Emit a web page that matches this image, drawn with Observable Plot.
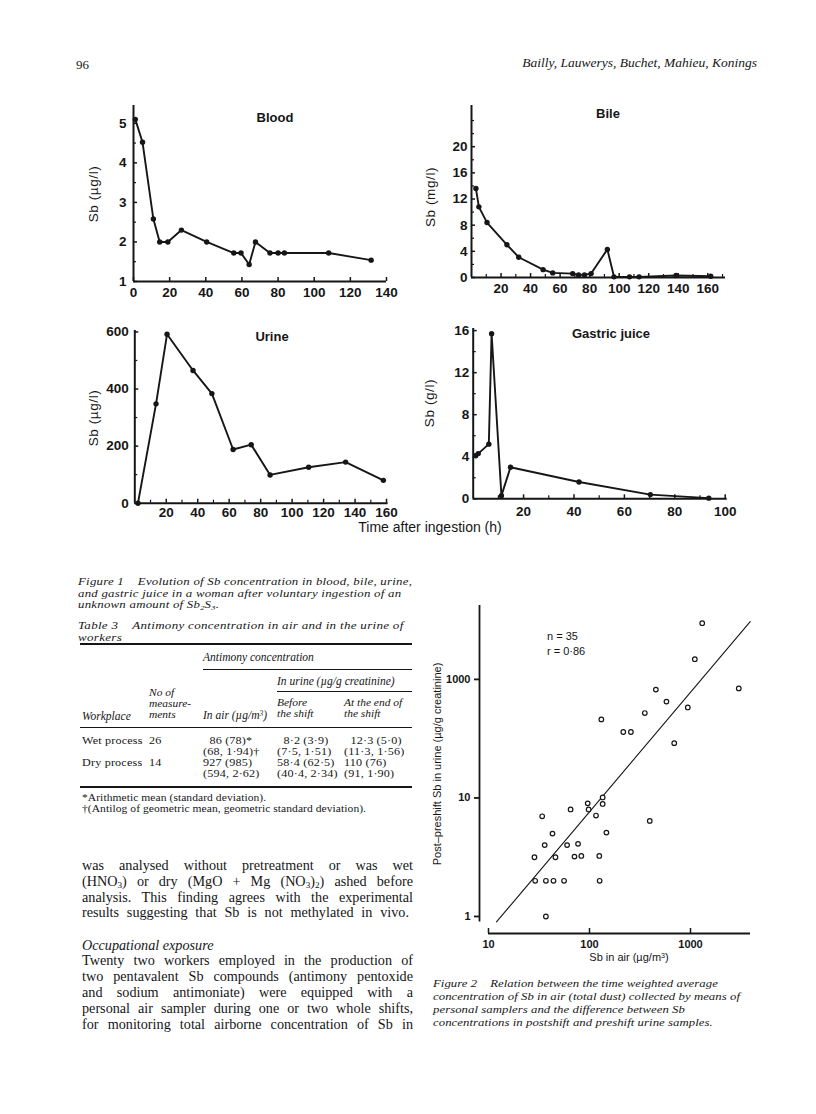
<!DOCTYPE html>
<html><head><meta charset="utf-8">
<script src="https://cdn.jsdelivr.net/npm/d3@7"></script>
<script src="https://cdn.jsdelivr.net/npm/@observablehq/plot@0.6"></script>
<style>
html,body{margin:0;padding:0;background:#fff;}
#page{position:relative;width:816px;height:1114px;overflow:hidden;background:#fff;color:#161616;}
#page svg{position:absolute;overflow:visible;background:transparent;}
.sb{font-size:0.65em;position:relative;top:0.28em;line-height:0;}
.sp{font-size:0.65em;position:relative;top:-0.4em;line-height:0;}
</style>
</head><body><div id="page"></div>
<script>
// ---------- Figure 1 data ----------
const bloodTime = [1, 5, 11, 14.5, 19, 26.5, 40.5, 55.5, 59.5, 64, 67.5, 75.5, 80, 83.5, 108, 131.5];
const bloodSb   = [5.1, 4.52, 2.58, 2.0, 2.0, 2.3, 2.0, 1.72, 1.72, 1.43, 2.0, 1.72, 1.72, 1.72, 1.72, 1.54];

const bileTime = [3, 5, 10.5, 24, 32, 48.5, 55, 68.5, 72.5, 76.5, 81, 92, 96.5, 107, 113.5, 138.5, 162];
const bileSb   = [13.6, 10.8, 8.4, 5.0, 3.1, 1.2, 0.7, 0.6, 0.4, 0.4, 0.6, 4.3, 0.1, 0.1, 0.1, 0.3, 0.2];

const urineTime = [2, 13.5, 20.5, 37, 49, 62.5, 74, 86, 110.5, 134, 158];
const urineSb   = [0, 348, 592, 465, 384, 188, 205, 99, 126, 144, 80];

const gastricTime = [1, 2, 6.2, 7.3, 11.2, 14.8, 42, 70.3, 93.5];
const gastricSb   = [4.1, 4.3, 5.2, 15.7, 0.3, 3.0, 1.6, 0.4, 0.06];

// tick values
const bloodYTicks = [1, 2, 3, 4, 5];
const bloodYMinor = [1.5, 2.5, 3.5, 4.5];
const bloodXTicks = [0, 20, 40, 60, 80, 100, 120, 140];
const bileYTicks = [0, 4, 8, 12, 16, 20];
const bileYMinor = [2, 6, 10, 14, 18, 22, 24];
const bileXTicks = [20, 40, 60, 80, 100, 120, 140, 160];
const bileXMinor = [10, 30, 50, 70, 90, 110, 130, 150, 170];
const urineYTicks = [0, 200, 400, 600];
const urineYMinor = [100, 300, 500];
const urineXTicks = [20, 40, 60, 80, 100, 120, 140, 160];
const urineXMinor = [10, 30, 50, 70, 90, 110, 130, 150];
const gastricYTicks = [0, 4, 8, 12, 16];
const gastricYMinor = [2, 6, 10, 14];
const gastricXTicks = [20, 40, 60, 80, 100];
const gastricXMinor = [10, 30, 50, 70, 90];

// ---------- Figure 2 data ----------
const airSb = [1306, 1104, 3006, 454, 578, 940, 353, 131, 216, 257, 690, 135, 96, 135, 65, 98, 34, 116, 395, 43, 147, 36, 60, 77, 28.5, 46, 71, 83, 125, 29, 37, 44, 56, 126, 37];
const urineDiff = [298, 148, 84, 82, 65, 58, 52, 46, 36, 36, 29, 10.1, 9.0, 8.9, 8.0, 8.0, 7.0, 7.1, 6.4, 5.0, 5.1, 4.0, 4.0, 4.1, 3.16, 3.16, 3.2, 3.24, 3.24, 2.0, 2.0, 2.0, 2.0, 2.0, 1.0];
const fitAir = [12, 3900];
const fitUrine = [0.9, 307];
const scatterXTicks = [10, 100, 1000];
const scatterXTickLabels = ["10", "100", "1000"];
const scatterYTicks = [1, 10, 100];
const scatterYTickLabels = ["1", "10", "1000"];

// ---------- helpers ----------
const page = document.getElementById("page");
const SANS = '"Liberation Sans", Arial, Helvetica, sans-serif';
const SERIF = '"Liberation Serif", "Times New Roman", serif';
const INK = "#161616";

function addText(html, x, cy, o = {}) {
  const d = document.createElement("div");
  const fs = o.size || 13;
  d.innerHTML = html;
  let css = `position:absolute;white-space:nowrap;line-height:1;font-size:${fs}px;font-family:${o.sans ? SANS : SERIF};` +
    `font-style:${o.italic ? "italic" : "normal"};font-weight:${o.bold ? "bold" : "normal"};top:${cy - (o.sans ? 0.49 : 0.58) * fs}px;`;
  if (o.ls) css += `letter-spacing:${o.ls}px;`;
  if (o.anchor === "end") css += `right:${816 - x}px;`;
  else if (o.anchor === "middle") css += `left:${x}px;transform:translateX(-50%);`;
  else css += `left:${x}px;`;
  if (o.width) css += `width:${o.width}px;text-align:justify;text-align-last:justify;white-space:normal;`;
  d.style.cssText = css;
  page.appendChild(d);
  return d;
}
// multi-line serif block; cy = visual centre of first line; sx = horizontal stretch
function addBlock(html, x, cy, o = {}) {
  const d = document.createElement("div");
  const lh = o.lh || 11;
  const fs = o.size || lh / 1.115;
  d.innerHTML = html;
  d.style.cssText = `position:absolute;white-space:nowrap;font-size:${fs}px;line-height:${lh}px;font-family:${o.sans ? SANS : SERIF};` +
    `font-style:${o.italic ? "italic" : "normal"};left:${x}px;top:${cy - lh / 2 - 0.1075 * fs}px;` +
    (o.ls ? `letter-spacing:${o.ls}px;` : "") +
    (o.sx ? `transform:scaleX(${o.sx});transform-origin:0 0;` : "");
  page.appendChild(d);
  return d;
}
function addRotated(html, cx, cy, o = {}) {
  const d = document.createElement("div");
  const fs = o.size || 13;
  d.innerHTML = html;
  d.style.cssText = `position:absolute;white-space:nowrap;line-height:1;font-size:${fs}px;font-family:${SANS};left:${cx}px;top:${cy}px;` +
    `transform:translate(-50%,-50%) rotate(-90deg);` + (o.ls ? `letter-spacing:${o.ls}px;` : "");
  page.appendChild(d);
}
function addRule(x1, x2, y, w) {
  const d = document.createElement("div");
  d.style.cssText = `position:absolute;left:${x1}px;width:${x2 - x1}px;top:${y - w / 2}px;height:${w}px;background:${INK};`;
  page.appendChild(d);
}
function place(svg, left, top) {
  svg.style.left = left + "px";
  svg.style.top = top + "px";
  page.appendChild(svg);
}

function timeChart(c) {
  const rows = c.times.map((t, i) => ({t, v: c.values[i]}));
  const marks = [
    Plot.ruleX([c.xDomain[0]], {stroke: INK, strokeWidth: 2}),
    Plot.ruleY([c.yDomain[0]], {stroke: INK, strokeWidth: 2}),
    Plot.axisY(c.yTicks, {tickSize: -4, tickPadding: c.yGap + 4, stroke: INK, strokeWidth: 1.5, label: null, tickFormat: d => String(d)}),
    Plot.axisY(c.yMinor, {tickSize: -3, stroke: INK, strokeWidth: 1.2, label: null, tickFormat: () => ""}),
    Plot.axisX(c.xTicks, {tickSize: -4, tickPadding: c.xGap + 4, stroke: INK, strokeWidth: 1.5, label: null, tickFormat: d => String(d)})
  ];
  if (c.xMinor) marks.push(Plot.axisX(c.xMinor, {tickSize: -3, stroke: INK, strokeWidth: 1.2, label: null, tickFormat: () => ""}));
  marks.push(
    Plot.line(rows, {x: "t", y: "v", stroke: INK, strokeWidth: 1.9}),
    Plot.dot(rows, {x: "t", y: "v", r: 2.7, fill: INK})
  );
  const svg = Plot.plot({
    width: c.W, height: c.H,
    marginLeft: c.x0 - c.L, marginRight: c.L + c.W - c.x1,
    marginTop: c.yt - c.T, marginBottom: c.T + c.H - c.yb,
    x: {domain: c.xDomain}, y: {domain: c.yDomain},
    style: {fontFamily: SANS, fontSize: "13.5px", fontWeight: "bold", color: INK, background: "transparent", overflow: "visible"},
    marks
  });
  place(svg, c.L, c.T);
}

// ---------- header ----------
addText("96", 76, 66, {size: 13});
addText("Bailly, Lauwerys, Buchet, Mahieu, Konings", 757, 64, {size: 13.5, italic: true, anchor: "end"});

// ---------- Figure 1 panels ----------
timeChart({L: 90, T: 95, W: 310, H: 215, x0: 133, x1: 386, yb: 281, yt: 105,
  xDomain: [0, 140], yDomain: [1, 5.45], times: bloodTime, values: bloodSb,
  yTicks: bloodYTicks, yMinor: bloodYMinor, xTicks: bloodXTicks, yGap: 7, xGap: 6});
timeChart({L: 425, T: 95, W: 315, H: 215, x0: 471, x1: 725, yb: 277, yt: 105,
  xDomain: [0, 172], yDomain: [0, 26.3], times: bileTime, values: bileSb,
  yTicks: bileYTicks, yMinor: bileYMinor, xTicks: bileXTicks, xMinor: bileXMinor, yGap: 4, xGap: 6});
timeChart({L: 90, T: 315, W: 310, H: 215, x0: 134.3, x1: 387.6, yb: 502.7, yt: 330,
  xDomain: [0, 161], yDomain: [0, 605], times: urineTime, values: urineSb,
  yTicks: urineYTicks, yMinor: urineYMinor, xTicks: urineXTicks, xMinor: urineXMinor, yGap: 6, xGap: 4});
timeChart({L: 425, T: 315, W: 315, H: 215, x0: 472.7, x1: 726.7, yb: 498.3, yt: 328,
  xDomain: [0, 100.8], yDomain: [0, 16.2], times: gastricTime, values: gastricSb,
  yTicks: gastricYTicks, yMinor: gastricYMinor, xTicks: gastricXTicks, xMinor: gastricXMinor, yGap: 4, xGap: 8});

addText("Blood", 275, 117, {sans: true, bold: true, size: 13, anchor: "middle"});
addText("Bile", 608, 113, {sans: true, bold: true, size: 13, anchor: "middle"});
addText("Urine", 272, 336, {sans: true, bold: true, size: 13, anchor: "middle"});
addText("Gastric juice", 611, 333, {sans: true, bold: true, size: 13, anchor: "middle"});
addRotated("Sb (&micro;g/l)", 94, 194, {size: 13.5, ls: 0.6});
addRotated("Sb (mg/l)", 431, 197, {size: 13.5, ls: 0.6});
addRotated("Sb (&micro;g/l)", 94, 418, {size: 13.5, ls: 0.6});
addRotated("Sb (g/l)", 430, 403, {size: 13.5, ls: 0.6});
addText("Time after ingestion (h)", 430, 526.5, {sans: true, size: 14, anchor: "middle"});

// ---------- Figure 1 caption ----------
addBlock("Figure 1&nbsp;&nbsp;&nbsp; Evolution of Sb concentration in blood, bile, urine,<br>" +
  "and gastric juice in a woman after voluntary ingestion of an<br>" +
  'unknown amount of Sb<span class="sb">2</span>S<span class="sb">3</span>.', 78, 583, {lh: 11.5, italic: true, ls: 0.2, sx: 1.245});

// ---------- Table 3 ----------
addBlock("Table 3&nbsp;&nbsp;&nbsp; Antimony concentration in air and in the urine of<br>workers", 78, 627, {lh: 11.5, italic: true, ls: 0.25, sx: 1.26});
addRule(80, 412, 644, 2);
addBlock("Antimony concentration", 203, 658, {size: 11.5, lh: 12, italic: true});
addRule(203, 412, 669, 1);
addBlock("In urine (&micro;g/g creatinine)", 277, 682, {size: 11.5, lh: 12, italic: true});
addRule(277, 412, 691, 1);
addBlock("No of<br>measure-<br>ments", 149, 694, {lh: 11, italic: true, sx: 1.16});
addBlock("Workplace", 82, 717, {size: 11.5, lh: 12, italic: true});
addBlock('In air (&micro;g/m<span class="sp">3</span>)', 203, 716, {size: 11.5, lh: 12, italic: true});
addBlock("Before<br>the shift", 277, 704, {lh: 11, italic: true, sx: 1.16});
addBlock("At the end of<br>the shift", 344, 704, {lh: 11, italic: true, sx: 1.16});
addRule(80, 412, 727, 1);
addBlock("Wet process<br><br>Dry process", 82, 742, {lh: 11, ls: 0.15, sx: 1.23});
addBlock("26<br><br>14", 149, 742, {lh: 11, ls: 0.15, sx: 1.23});
addBlock("&nbsp;&nbsp;86 (78)*<br>(68, 1·94)†<br>927 (985)<br>(594, 2·62)", 203, 742, {lh: 11, ls: 0.15, sx: 1.23});
addBlock("&nbsp;&nbsp;8·2 (3·9)<br>(7·5, 1·51)<br>58·4 (62·5)<br>(40·4, 2·34)", 277, 742, {lh: 11, ls: 0.15, sx: 1.23});
addBlock("&nbsp;&nbsp;12·3 (5·0)<br>(11·3, 1·56)<br>110 (76)<br>(91, 1·90)", 344, 742, {lh: 11, ls: 0.15, sx: 1.23});
addRule(80, 412, 787, 2);
addBlock("*Arithmetic mean (standard deviation).<br>†(Antilog of geometric mean, geometric standard deviation).", 82, 799, {lh: 11, ls: 0.05, sx: 1.17});

// ---------- body text ----------
const BW = 331, BF = 14.2;
addText("was analysed without pretreatment or was wet", 82, 866, {size: BF, width: BW});
addText('(HNO<span class="sb">3</span>) or dry (MgO + Mg (NO<span class="sb">3</span>)<span class="sb">2</span>) ashed before', 82, 882, {size: BF, width: BW});
addText("analysis. This finding agrees with the experimental", 82, 898, {size: BF, width: BW});
addText("results suggesting that Sb is not methylated in vivo.", 82, 913, {size: BF, width: 327});
addText("Occupational exposure", 82, 946, {size: BF, italic: true});
addText("Twenty two workers employed in the production of", 82, 961, {size: BF, width: BW});
addText("two pentavalent Sb compounds (antimony pentoxide", 82, 977, {size: BF, width: BW});
addText("and sodium antimoniate) were equipped with a", 82, 993, {size: BF, width: BW});
addText("personal air sampler during one or two whole shifts,", 82, 1009, {size: BF, width: BW});
addText("for monitoring total airborne concentration of Sb in", 82, 1025, {size: BF, width: BW});

// ---------- Figure 2 scatter ----------
{
  const rows = airSb.map((a, i) => ({air: a, diff: urineDiff[i]}));
  const fit = fitAir.map((a, i) => ({air: a, diff: fitUrine[i]}));
  const L = 430, T = 595, W = 330, H = 365;
  const x0 = 488, x1 = 750, yb = 921.4, yt = 604.9;
  const svg = Plot.plot({
    width: W, height: H,
    marginLeft: x0 - L, marginRight: L + W - x1, marginTop: yt - T, marginBottom: T + H - yb,
    x: {type: "log", domain: [10, 3927]},
    y: {type: "log", domain: [0.9, 421]},
    style: {fontFamily: SANS, fontSize: "11px", fontWeight: "bold", color: INK, background: "transparent", overflow: "visible"},
    marks: [
      Plot.ruleX([10], {dx: -9, stroke: INK, strokeWidth: 1.8}),
      Plot.ruleY([0.9], {dy: 11.6, stroke: INK, strokeWidth: 1.8}),
      Plot.axisY(scatterYTicks, {tickSize: 5, dx: -9, tickPadding: 4, stroke: INK, strokeWidth: 1.8, label: null,
        tickFormat: d => scatterYTickLabels[scatterYTicks.indexOf(d)]}),
      Plot.axisX(scatterXTicks, {tickSize: -5, dy: 11.6, tickPadding: 12, stroke: INK, strokeWidth: 1.5, label: null,
        tickFormat: d => scatterXTickLabels[scatterXTicks.indexOf(d)]}),
      Plot.line(fit, {x: "air", y: "diff", stroke: INK, strokeWidth: 1.1}),
      Plot.dot(rows, {x: "air", y: "diff", r: 2.3, stroke: INK, strokeWidth: 1.2, fill: "white"})
    ]
  });
  place(svg, L, T);
}
addBlock("n = 35<br>r = 0·86", 547, 638, {size: 11, lh: 15, sans: true});
addRotated("Post–preshift Sb in urine (&micro;g/g creatinine)", 437, 764, {size: 11});
addText('Sb in air (&micro;g/m<span class="sp">3</span>)', 629, 957, {sans: true, size: 11, anchor: "middle"});

addBlock("Figure 2&nbsp;&nbsp;&nbsp; Relation between the time weighted average<br>" +
  "concentration of Sb in air (total dust) collected by means of<br>" +
  "personal samplers and the difference between Sb<br>" +
  "concentrations in postshift and preshift urine samples.", 433, 985, {lh: 12.7, italic: true, ls: 0.05, sx: 1.12});
</script>
</body></html>
